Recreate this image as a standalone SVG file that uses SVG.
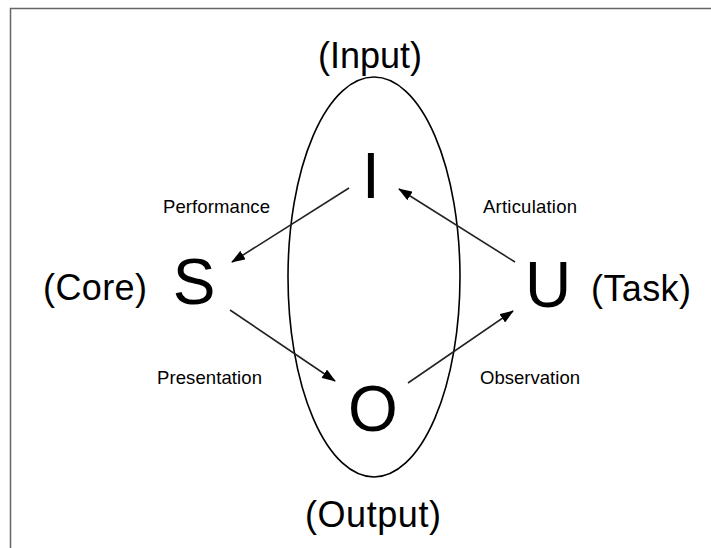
<svg xmlns="http://www.w3.org/2000/svg" width="711" height="548" viewBox="0 0 711 548">
<style>
text{font-family:"Liberation Sans",Arial,sans-serif;fill:#000}
.big{font-size:64px;text-anchor:middle}
.par{font-size:36px}
.lab{font-size:18.5px}
.c{fill:none;stroke:#222;stroke-width:1.6}
</style>
<defs>
<marker id="ah" viewBox="0 0 14 10" refX="13" refY="5" markerWidth="14" markerHeight="10" markerUnits="userSpaceOnUse" orient="auto">
<path d="M0,0 L14,5 L0,10 Z" fill="#000"/>
</marker>
</defs>
<rect x="0" y="0" width="711" height="548" fill="#fff"/>
<rect x="10.5" y="8.5" width="720" height="560" fill="none" stroke="#666" stroke-width="1.5"/>
<ellipse cx="374" cy="277" rx="86" ry="200" fill="none" stroke="#000" stroke-width="1.6"/>
<g id="connectors">
<line class="c" x1="349" y1="188" x2="232" y2="262" marker-end="url(#ah)"/>
<line class="c" x1="230" y1="310" x2="335" y2="381" marker-end="url(#ah)"/>
<line class="c" x1="408" y1="383" x2="513" y2="311" marker-end="url(#ah)"/>
<line class="c" x1="515" y1="262" x2="399" y2="189" marker-end="url(#ah)"/>
</g>
<g id="node-I"><text class="big" x="371" y="198">I</text></g>
<g id="node-S"><text class="big" x="194" y="304">S</text></g>
<g id="node-U"><text class="big" x="548" y="307">U</text></g>
<g id="node-O"><text class="big" x="373" y="431">O</text></g>
<g id="label-input"><text class="par" x="318" y="68" textLength="104">(Input)</text></g>
<g id="label-output"><text class="par" x="305" y="527" textLength="136">(Output)</text></g>
<g id="label-core"><text class="par" x="43" y="300" textLength="104">(Core)</text></g>
<g id="label-task"><text class="par" x="591" y="301" textLength="100">(Task)</text></g>
<g id="edge-labels">
<text class="lab" x="163" y="213" textLength="107">Performance</text>
<text class="lab" x="483" y="213" textLength="94">Articulation</text>
<text class="lab" x="157" y="384" textLength="105">Presentation</text>
<text class="lab" x="480" y="384" textLength="100">Observation</text>
</g>
</svg>
